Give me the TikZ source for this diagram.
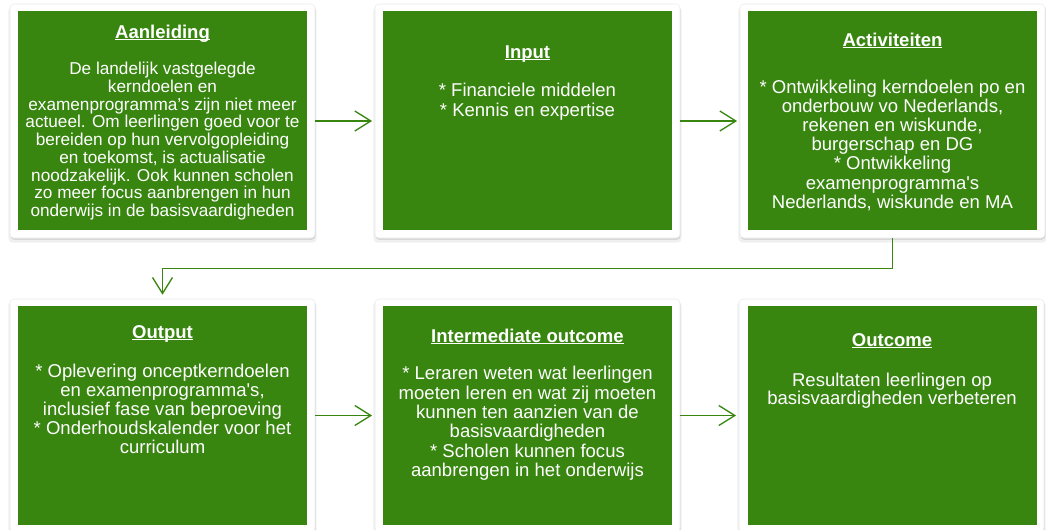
\documentclass[tikz,border=0pt]{standalone}
\usepackage{fontspec}
\newfontfamily\arial{Liberation Sans}
\usetikzlibrary{arrows.meta,shadows}
\definecolor{boxgreen}{RGB}{56,134,16}
\newcommand\ulbf[1]{\setbox0\hbox{\bfseries #1}\rlap{\rule[-0.12em]{\wd0}{0.07em}}\box0}
\begin{document}
\begin{tikzpicture}[x=0.75pt,y=-0.75pt,
  frame/.style={fill=white, draw=black!8, line width=0.4pt, rounded corners=3pt, inner sep=0pt,
    minimum width=228.75pt, minimum height=#1,
    drop shadow={opacity=0.12,shadow xshift=0pt,shadow yshift=-2.6pt, shadow scale=1.01},
    drop shadow={opacity=0.22,shadow xshift=0.4pt,shadow yshift=-1.4pt}},
  greenbox/.style={fill=boxgreen, inner sep=0pt, minimum width=216.75pt, minimum height=164.25pt},
  ttl/.style={text=white, anchor=base, inner sep=0pt, font=\arial\fontsize{13.9pt}{14.4pt}\selectfont},
  body/.style={text=white, anchor=north, inner sep=0pt, align=center,
    font=\arial\fontsize{13.9pt}{#1}\selectfont,
    execute at begin node={\rule{0pt}{12pt}}},
  flow/.style={draw=boxgreen, line width=1pt, -{Straight Barb[length=12pt,width=15pt,line width=1pt]}}
]
\useasboundingbox (0,0) rectangle (1046,529);
\clip (0,0) rectangle (1046,529);
% frames
\node[frame=175.5pt] (f1) at (162.5,121) {};
\node[frame=175.5pt] (f2) at (527.5,121) {};
\node[frame=175.5pt] (f3) at (892.5,121) {};
\node[frame=174.75pt] (f4) at (162.5,415.5) {};
\node[frame=174.75pt] (f5) at (527.5,415.5) {};
\node[frame=174.75pt] (f6) at (891.5,415.5) {};
% green boxes
\node[greenbox] (g1) at (162.5,120.5) {};
\node[greenbox] (g2) at (527.5,120.5) {};
\node[greenbox] (g3) at (892.5,120.5) {};
\node[greenbox] (g4) at (162.5,415.5) {};
\node[greenbox] (g5) at (527.5,415.5) {};
\node[greenbox] (g6) at (892,415.5) {};
% texts
\node[ttl] (t1) at (162.5,38) {\ulbf{Aanleiding}};
\node[body=13.3pt, font=\arial\fontsize{12.9pt}{13.3pt}\selectfont] (b1) at (162.5,62) {De landelijk vastgelegde\\kerndoelen en\\examenprogramma’s zijn niet meer\\actueel. Om leerlingen goed voor te\\bereiden op hun vervolgopleiding\\en toekomst, is actualisatie\\noodzakelijk. Ook kunnen scholen\\zo meer focus aanbrengen in hun\\onderwijs in de basisvaardigheden};
\node[ttl] (t2) at (527.5,58) {\ulbf{Input}};
\node[body=14.6pt] (b2) at (527.5,83) {* Financiele middelen\\* Kennis en expertise};
\node[ttl] (t3) at (892.5,46) {\ulbf{Activiteiten}};
\node[body=14.3pt] (b3) at (892.5,80) {* Ontwikkeling kerndoelen po en\\onderbouw vo Nederlands,\\rekenen en wiskunde,\\burgerschap en DG\\* Ontwikkeling\\examenprogramma's\\Nederlands, wiskunde en MA};
\node[ttl] (t4) at (162.5,338) {\ulbf{Output}};
\node[body=14.25pt] (b4) at (162.5,364) {* Oplevering onceptkerndoelen\\en examenprogramma's,\\inclusief fase van beproeving\\* Onderhoudskalender voor het\\curriculum};
\node[ttl] (t5) at (527.5,342) {\ulbf{Intermediate outcome}};
\node[body=14.5pt] (b5) at (527.5,366) {* Leraren weten wat leerlingen\\moeten leren en wat zij moeten\\kunnen ten aanzien van de\\basisvaardigheden\\* Scholen kunnen focus\\aanbrengen in het onderwijs};
\node[ttl] (t6) at (892,346) {\ulbf{Outcome}};
\node[body=13.6pt] (b6) at (892,373) {Resultaten leerlingen op\\basisvaardigheden verbeteren};
% connectors
\draw[flow, shorten >=2pt] (f1.east) -- (f2.west);
\draw[flow, shorten >=2pt] (f2.east) -- (f3.west);
\draw[flow, shorten >=3pt] (f3.south) -- ++(0,30) -| (f4.north);
\draw[flow, shorten >=2pt] (f4.east) -- (f5.west);
\draw[flow, shorten >=2pt] (f5.east) -- (f6.west);
\end{tikzpicture}
\end{document}
